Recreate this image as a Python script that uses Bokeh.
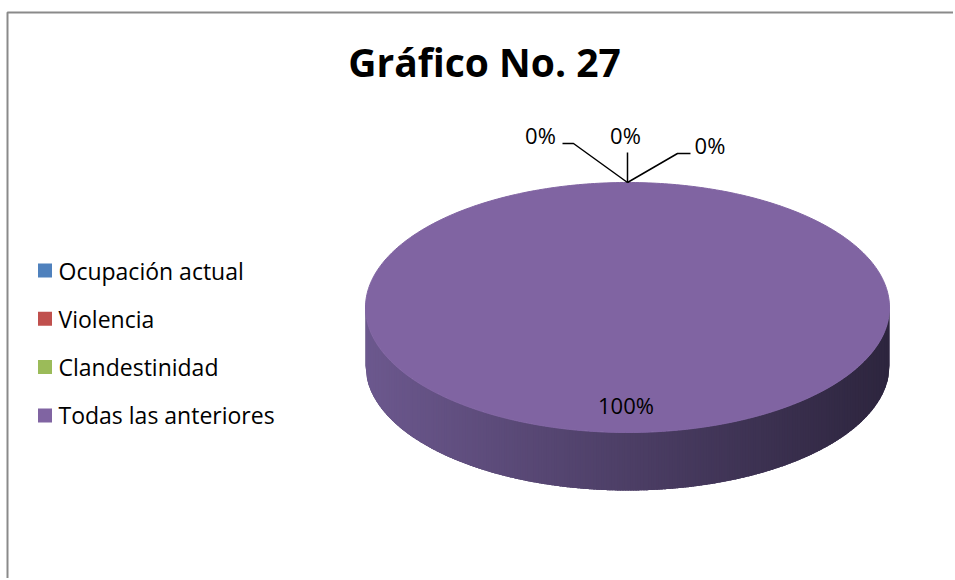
import numpy as np
from bokeh.plotting import figure
from bokeh.models import Range1d, ColumnDataSource
from bokeh.core.properties import value
from bokeh.embed import file_html
from bokeh.resources import INLINE

# ---- data ----
categories = ["Ocupación actual", "Violencia", "Clandestinidad", "Todas las anteriores"]
values = [0, 0, 0, 100]
colors = ["#4F81BD", "#C0504D", "#9BBB59", "#8064A2"]
title_text = "Gráfico No. 27"

W, H = 953, 578
p = figure(width=W, height=H, output_backend="svg", toolbar_location=None,
           x_range=Range1d(0, W), y_range=Range1d(H, 0), min_border=0,
           tools="")
p.axis.visible = False
p.grid.visible = False
p.outline_line_color = None
p.background_fill_color = "white"
p.border_fill_color = "white"

FONT = value("Open Sans")

# chart border (top and left visible)
p.line([7, 7, W], [H, 12, 12], line_color="#8a8a8a", line_width=2)

# title
p.text(x=[484], y=[61], text=[title_text], text_font=FONT, text_font_size="39px",
       text_font_style="bold", text_align="center", text_baseline="middle", text_color="black")

# ---- 3D pie geometry ----
cx, cy, a, b, depth = 627, 307, 262, 125, 58
total = float(sum(values))
pcts = [v / total for v in values]

def rim(x):
    t = np.clip((x - cx) / a, -1, 1)
    return cy + b * np.sqrt(1 - t * t)

left_c = np.array([108, 88, 142])
right_c = np.array([45, 37, 62])

# side silhouette base
sx = np.linspace(cx - a, cx + a, 300)
base_x = list(sx) + list(sx[::-1])
base_y = list(rim(sx)) + list(rim(sx[::-1]) + depth)
mid = (left_c + right_c) / 2
p.patch(base_x, base_y, fill_color="#%02x%02x%02x" % tuple(int(v) for v in mid), line_color=None)

# shaded strips
N = 200
xs_edges = np.linspace(cx - a, cx + a, N + 1)
side_xs, side_ys, side_cols = [], [], []
for i in range(N):
    x0 = xs_edges[i]
    x1 = min(xs_edges[i + 1] + 1.5, cx + a)
    xx = np.linspace(x0, x1, 4)
    side_xs.append(list(xx) + list(xx[::-1]))
    side_ys.append(list(rim(xx)) + list(rim(xx[::-1]) + depth))
    f = (0.5 * (x0 + x1) - (cx - a)) / (2 * a)
    c = left_c + (right_c - left_c) * min(f, 1)
    side_cols.append("#%02x%02x%02x" % tuple(int(round(v)) for v in c))
p.patches(side_xs, side_ys, fill_color=side_cols, line_color=None)

# top face slices: start at 12 o'clock, clockwise
start = 0.0
for pct, col in zip(pcts, colors):
    if pct <= 0:
        start += pct
        continue
    th = np.linspace(start, start + pct, max(3, int(400 * pct)))
    ang = np.pi / 2 - th * 2 * np.pi
    px = cx + a * np.cos(ang)
    py = cy - b * np.sin(ang)
    if pct < 1:
        px = np.concatenate([[cx], px])
        py = np.concatenate([[cy], py])
    p.patch(list(px), list(py), fill_color=col, line_color=col, line_width=1)
    start += pct

# ---- data labels ----
top_x, top_y = cx, cy - b
lbl = [f"{round(v / total * 100)}%" for v in values]
# leader lines for the three zero slices
p.line([top_x, 573, 562], [top_y, 143, 143], line_color="black", line_width=1.5)
p.line([top_x, top_x], [top_y, 152], line_color="black", line_width=1.5)
p.line([top_x, 677, 690], [top_y, 153, 153], line_color="black", line_width=1.5)
lab_src = ColumnDataSource(dict(x=[540, 625, 709.5, 625.5], y=[134, 134, 144, 404], t=lbl))
p.text(x="x", y="y", text="t", source=lab_src, text_font=FONT, text_font_size="22px",
       text_align="center", text_baseline="middle", text_color="black")

# ---- legend ----
sq_y = [270 + 48.3 * i for i in range(len(categories))]
p.rect(x=[44.5] * len(categories), y=sq_y, width=14, height=14, fill_color=colors,
       line_color=None)
p.text(x=[58] * len(categories), y=sq_y, text=categories, text_font=FONT, text_font_size="23px",
       text_align="left", text_baseline="middle", text_color="black")

open("out.html", "w").write(file_html(p, INLINE))
